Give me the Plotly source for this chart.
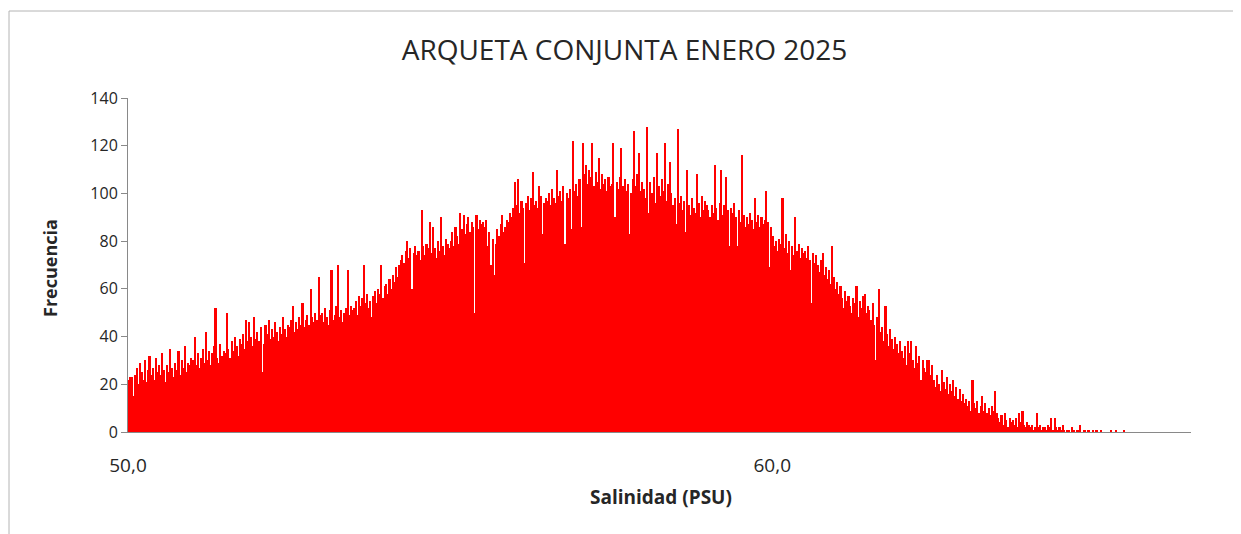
import numpy as np
import plotly.graph_objects as go

title_text = "ARQUETA CONJUNTA ENERO 2025"
x_title = "Salinidad (PSU)"
y_title = "Frecuencia"

bin_start = 50.0
bin_width = 0.025

# Frequency per 0.025 PSU bin, starting at 50.0 PSU (rows of 0.5 PSU)
frecuencia = [
    22, 23, 23, 15, 24, 27, 20, 29, 25, 22, 30, 21, 26, 32, 24, 27, 22, 31, 25, 28,   # 50.0
    24, 33, 26, 21, 28, 25, 35, 27, 23, 29, 26, 34, 24, 30, 27, 36, 25, 29, 28, 31,   # 50.5
    30, 40, 28, 33, 27, 31, 35, 29, 42, 30, 34, 28, 33, 36, 52, 31, 29, 37, 32, 34,   # 51.0
    33, 50, 35, 31, 38, 34, 40, 36, 32, 39, 37, 41, 35, 47, 38, 46, 40, 36, 48, 39,   # 51.5
    42, 38, 44, 25, 37, 45, 41, 47, 39, 43, 40, 46, 42, 38, 44, 41, 48, 43, 40, 45,   # 52.0
    44, 47, 53, 42, 46, 43, 48, 45, 54, 44, 47, 49, 45, 60, 48, 46, 50, 47, 65, 49,   # 52.5
    50, 46, 52, 48, 45, 51, 68, 47, 49, 53, 70, 48, 51, 46, 50, 52, 68, 49, 53, 51,   # 53.0
    52, 55, 49, 57, 53, 56, 70, 54, 58, 52, 55, 48, 57, 59, 54, 60, 58, 70, 56, 61,   # 53.5
    62, 58, 64, 60, 66, 63, 69, 65, 70, 72, 74, 71, 76, 80, 73, 77, 60, 75, 78, 74,   # 54.0
    76, 72, 93, 78, 74, 79, 77, 88, 75, 86, 77, 73, 80, 76, 90, 78, 74, 81, 79, 77,   # 54.5
    80, 84, 78, 86, 82, 79, 92, 85, 91, 83, 87, 90, 84, 88, 86, 50, 91, 85, 89, 87,   # 55.0
    88, 86, 89, 78, 84, 70, 81, 66, 79, 85, 82, 87, 91, 84, 86, 89, 88, 92, 90, 94,   # 55.5
    105, 95, 106, 92, 97, 94, 71, 96, 99, 93, 98, 109, 95, 97, 94, 103, 99, 83, 96, 98,   # 56.0
    97, 100, 95, 102, 98, 96, 110, 99, 101, 97, 103, 79, 100, 98, 102, 85, 122, 101, 104, 99,   # 56.5
    106, 86, 121, 108, 112, 104, 110, 107, 121, 103, 109, 105, 115, 102, 108, 104, 106, 101, 107, 103,   # 57.0
    104, 121, 90, 105, 102, 107, 119, 103, 106, 101, 104, 83, 100, 106, 126, 103, 108, 117, 101, 105,   # 57.5
    102, 98, 128, 92, 105, 100, 107, 96, 117, 103, 99, 106, 101, 121, 97, 104, 113, 100, 95, 98,   # 58.0
    87, 127, 96, 99, 93, 97, 84, 110, 95, 91, 98, 94, 92, 108, 96, 90, 99, 93, 97, 95,   # 58.5
    93, 90, 95, 92, 112, 94, 89, 96, 110, 91, 95, 107, 93, 78, 94, 92, 96, 90, 78, 93,   # 59.0
    88, 116, 91, 86, 90, 87, 92, 89, 85, 98, 88, 91, 86, 90, 87, 89, 101, 88, 69, 86,   # 59.5
    82, 78, 80, 76, 81, 79, 98, 77, 83, 75, 80, 68, 78, 74, 90, 76, 79, 73, 77, 75,   # 60.0
    76, 73, 78, 72, 54, 75, 71, 74, 70, 67, 72, 75, 66, 69, 64, 68, 62, 78, 65, 60,   # 60.5
    63, 58, 61, 56, 52, 59, 55, 57, 53, 50, 56, 54, 61, 48, 55, 52, 57, 58, 50, 53,   # 61.0
    51, 47, 54, 45, 30, 48, 60, 42, 44, 38, 53, 41, 36, 43, 39, 35, 40, 37, 33, 38,   # 61.5
    34, 31, 36, 28, 38, 33, 38, 30, 27, 36, 29, 32, 22, 30, 27, 25, 30, 30, 24, 28,   # 62.0
    22, 19, 24, 20, 17, 26, 21, 18, 23, 16, 20, 17, 22, 15, 19, 14, 18, 13, 16, 12,   # 62.5
    14, 11, 13, 9, 22, 12, 10, 13, 8, 11, 15, 9, 12, 8, 10, 7, 11, 9, 17, 8,   # 63.0
    6, 4, 7, 3, 8, 5, 2, 6, 4, 5, 3, 6, 2, 8, 4, 9, 3, 2, 4, 3,   # 63.5
    2, 3, 1, 2, 8, 2, 3, 1, 2, 2, 1, 3, 2, 6, 1, 6, 2, 1, 2, 1,   # 64.0
    3, 1, 0, 1, 1, 0, 2, 1, 0, 1, 1, 3, 0, 1, 1, 0, 1, 0, 0, 1,   # 64.5
    0, 1, 0, 0, 1, 0, 0, 0, 0, 0, 1, 0, 0, 1, 0, 0, 0, 0, 1, 0,   # 65.0
]

x_range = [50.0, 66.5]
x_tick_vals = [50, 60]
y_range = [0, 140]
y_tick_vals = list(range(0, 141, 20))

x_centers = bin_start + bin_width * (np.arange(len(frecuencia)) + 0.5)

FONT = "Open Sans"
TXT = "#262626"
AXC = "#898989"

fig = go.Figure(
    go.Bar(
        x=x_centers,
        y=frecuencia,
        width=bin_width,
        marker=dict(color="#FF0000", line=dict(width=0)),
        hoverinfo="x+y",
    )
)

# the page draws the figure 8 px in from the top-left corner
OFF = 8
W, H = 1241 - OFF, 534 - OFF
L, R, T, B = 128 - OFF, 50, 98 - OFF, 102
pw, ph = W - L - R, H - T - B


def px_to_paper_x(px):
    return (px - OFF - L) / pw


def px_to_paper_y(py):
    return (H - B - (py - OFF)) / ph


fig.update_layout(
    width=W,
    height=H,
    margin=dict(l=L, r=R, t=T, b=B),
    paper_bgcolor="white",
    plot_bgcolor="white",
    separators=",.",
    bargap=0,
    showlegend=False,
    font=dict(family=FONT, color=TXT, size=16),
    title=dict(
        text=title_text,
        x=0.5,
        xref="container",
        xanchor="center",
        y=1 - (50 - OFF) / H,
        yref="container",
        yanchor="middle",
        font=dict(family=FONT, size=28, color=TXT),
    ),
    xaxis=dict(
        range=x_range,
        tickvals=x_tick_vals,
        tickformat=".1f",
        showline=True,
        linecolor=AXC,
        linewidth=1,
        ticks="",
        showgrid=False,
        zeroline=False,
        ticklabelstandoff=16,
        tickfont=dict(family=FONT, size=19, color=TXT),
    ),
    yaxis=dict(
        range=y_range,
        tickvals=y_tick_vals,
        showline=True,
        linecolor=AXC,
        linewidth=1,
        ticks="outside",
        ticklen=6,
        tickcolor=AXC,
        showgrid=False,
        zeroline=False,
        tickfont=dict(family=FONT, size=16, color=TXT),
    ),
    annotations=[
        dict(
            text="<b>" + x_title + "</b>",
            xref="paper", yref="paper",
            x=px_to_paper_x(661), y=px_to_paper_y(497),
            xanchor="center", yanchor="middle",
            showarrow=False,
            font=dict(family=FONT, size=19, color=TXT),
        ),
        dict(
            text="<b>" + y_title + "</b>",
            xref="paper", yref="paper",
            x=px_to_paper_x(50), y=px_to_paper_y(268),
            xanchor="center", yanchor="middle",
            textangle=-90,
            showarrow=False,
            font=dict(family=FONT, size=18, color=TXT),
        ),
    ],
    shapes=[
        dict(
            type="rect",
            xref="paper", yref="paper",
            x0=px_to_paper_x(9), x1=px_to_paper_x(1237),
            y0=px_to_paper_y(560), y1=px_to_paper_y(11),
            line=dict(color="#B4B4B4", width=1),
            fillcolor="rgba(0,0,0,0)",
            layer="below",
        )
    ],
)

fig.write_html("out.html")
